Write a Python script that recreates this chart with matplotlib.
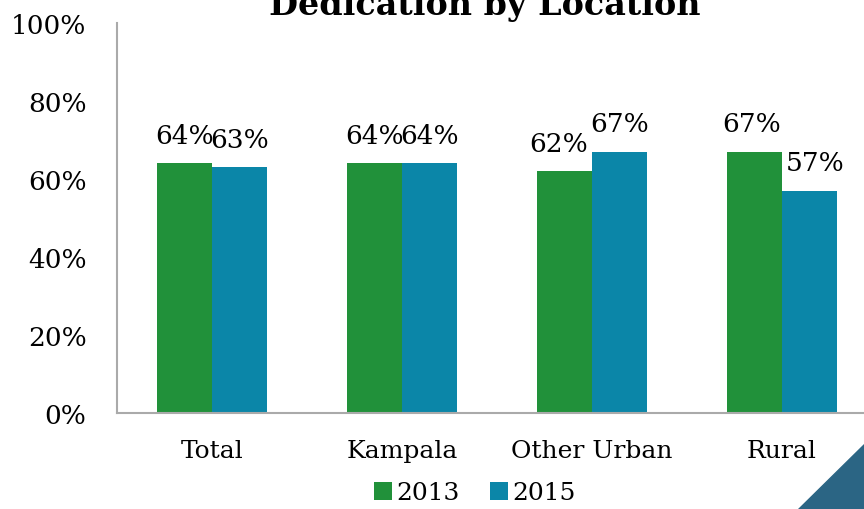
import matplotlib.pyplot as plt
import numpy as np
from matplotlib.patches import Polygon

categories = ["Total", "Kampala", "Other Urban", "Rural"]
vals_2013 = [64, 64, 62, 67]
vals_2015 = [63, 64, 67, 57]
# label nudges (points) for readability, like the original
dx_2013 = [0, 0, -4, -2]
dx_2015 = [0, 0, 0, 4]

plt.rcParams['font.family'] = ['DejaVu Serif']

green = '#21913a'
blue = '#0b86a8'

fig = plt.figure(figsize=(8.64, 5.10), dpi=100)
ax = fig.add_axes([117/864, 96/510, 760/864, 390/510])

x = np.arange(len(categories))
w = 0.29
b1 = ax.bar(x - w/2, vals_2013, w, color=green, label='2013')
b2 = ax.bar(x + w/2, vals_2015, w, color=blue, label='2015')

for i in range(len(x)):
    ax.annotate(f"{vals_2013[i]}%", (x[i] - w/2, vals_2013[i]), xytext=(dx_2013[i], 11),
                textcoords='offset points', ha='center', va='bottom', fontsize=19)
    ax.annotate(f"{vals_2015[i]}%", (x[i] + w/2, vals_2015[i]), xytext=(dx_2015[i], 11),
                textcoords='offset points', ha='center', va='bottom', fontsize=19)

ax.set_xlim(-0.5, 3.5)
ax.set_ylim(0, 100)
ax.set_yticks(range(0, 101, 20))
ax.set_yticklabels([f"{v}%" for v in range(0, 101, 20)], fontsize=19)
ax.set_xticks(x)
ax.set_xticklabels(categories, fontsize=18)
ax.tick_params(axis='y', length=0, pad=22)
ax.tick_params(axis='x', length=0, pad=19)
for s in ['top', 'right']:
    ax.spines[s].set_visible(False)
for s in ['left', 'bottom']:
    ax.spines[s].set_color('#aaaaaa')
    ax.spines[s].set_linewidth(1.5)

fig.text(485/864, 1 - 15/510, "Dedication by Location", ha='center', va='baseline',
         fontsize=24, fontweight='bold')

fig.legend(handles=[b1, b2], loc='center', bbox_to_anchor=(475/864, 1 - 494/510),
           ncol=2, frameon=False, fontsize=18, handlelength=0.7, handleheight=0.7,
           handletextpad=0.2, columnspacing=1.2)

fig.patches.append(Polygon([[798/864, 0], [1, 0], [1, 1 - 445/510]], closed=True,
                           transform=fig.transFigure, color='#2b6584'))

fig.savefig("out.png", dpi=100)
